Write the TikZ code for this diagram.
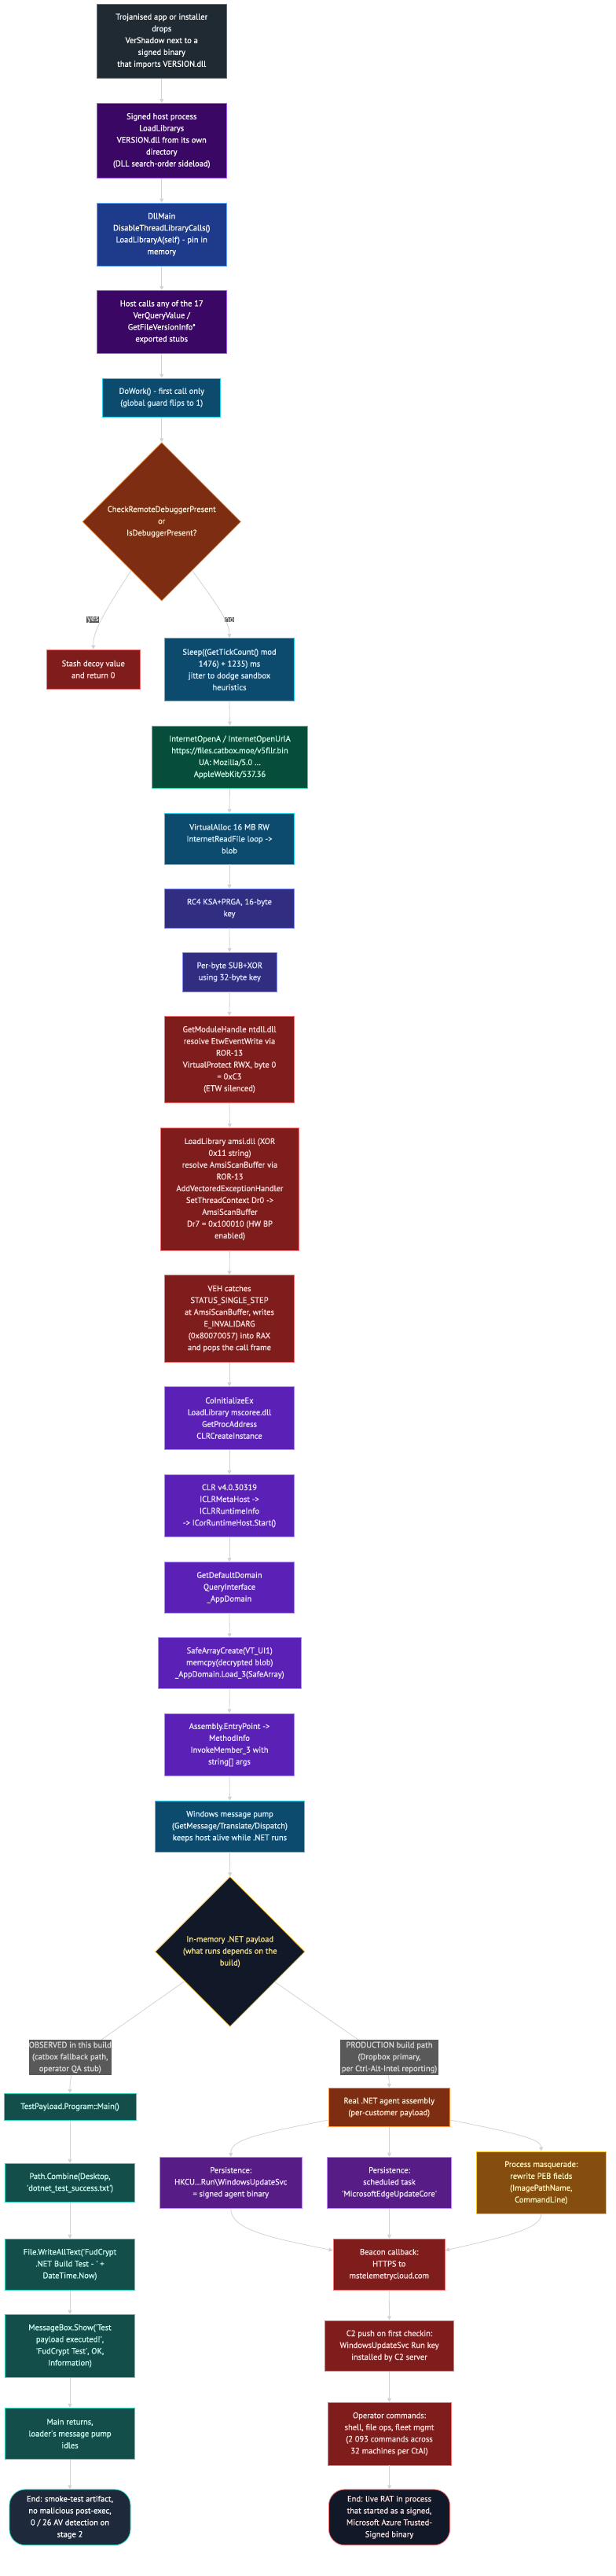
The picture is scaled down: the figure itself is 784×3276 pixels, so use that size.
\documentclass[tikz,border=0pt]{standalone}
\usepackage{fontspec}
\setmainfont{PT Sans}[FakeBold=0.7]
\usetikzlibrary{shapes.geometric,arrows.meta,calc}
\newcommand\fs{\fontsize{10.5}{15}\selectfont}
\newcommand\sq{\textquotesingle}
\definecolor{edgec}{HTML}{D3D3D3}
\definecolor{slateF}{HTML}{1F2A33}\definecolor{slateD}{HTML}{5F6B78}
\definecolor{dpurF}{HTML}{3B0764}\definecolor{dpurD}{HTML}{A855F7}
\definecolor{blueF}{HTML}{1E3A8A}\definecolor{blueD}{HTML}{60A5FA}
\definecolor{cyanF}{HTML}{0C4A6E}\definecolor{cyanD}{HTML}{22D3EE}\definecolor{cyanT}{HTML}{E0F2FE}
\definecolor{orgF}{HTML}{7C2D12}\definecolor{orgD}{HTML}{FB923C}\definecolor{orgT}{HTML}{FFEDD5}
\definecolor{redF}{HTML}{7F1D1D}\definecolor{redD}{HTML}{F87171}\definecolor{redT}{HTML}{FEE2E2}
\definecolor{grnF}{HTML}{064E3B}\definecolor{grnD}{HTML}{34D399}\definecolor{grnT}{HTML}{D1FAE5}
\definecolor{indF}{HTML}{312E81}\definecolor{indD}{HTML}{818CF8}\definecolor{indT}{HTML}{E0E7FF}
\definecolor{vioF}{HTML}{5B21B6}\definecolor{vioD}{HTML}{A78BFA}\definecolor{vioT}{HTML}{EDE9FE}
\definecolor{navF}{HTML}{111827}\definecolor{ylwD}{HTML}{FBBF24}\definecolor{ylwT}{HTML}{FDE68A}
\definecolor{lblF}{HTML}{595959}\definecolor{lblT}{HTML}{DDDDDD}
\definecolor{tealF}{HTML}{134E4A}\definecolor{tealD}{HTML}{2DD4BF}\definecolor{tealT}{HTML}{CCFBF1}
\definecolor{perF}{HTML}{581C87}\definecolor{perD}{HTML}{C084FC}\definecolor{perT}{HTML}{F3E8FF}
\definecolor{mqF}{HTML}{854D0E}\definecolor{mqD}{HTML}{FACC15}\definecolor{mqT}{HTML}{FEF9C3}
\definecolor{e1F}{HTML}{1E293B}
\begin{document}
\begin{tikzpicture}[x=1pt,y=-1pt,
  box/.style={draw, line width=0.8pt, inner sep=0pt, align=center, font=\fs},
  slatebox/.style={box, fill=slateF, draw=slateD, text=white},
  dpurbox/.style={box, fill=dpurF, draw=dpurD, text=white},
  bluebox/.style={box, fill=blueF, draw=blueD, text=white},
  cyanbox/.style={box, fill=cyanF, draw=cyanD, text=cyanT},
  orgbox/.style={box, fill=orgF, draw=orgD, text=orgT},
  redbox/.style={box, fill=redF, draw=redD, text=redT},
  grnbox/.style={box, fill=grnF, draw=grnD, text=grnT},
  indbox/.style={box, fill=indF, draw=indD, text=indT},
  viobox/.style={box, fill=vioF, draw=vioD, text=vioT},
  tealbox/.style={box, fill=tealF, draw=tealD, text=tealT},
  perbox/.style={box, fill=perF, draw=perD, text=perT},
  mqbox/.style={box, fill=mqF, draw=mqD, text=mqT},
  decision/.style={box, shape=diamond, aspect=1},
  lbl/.style={fill=lblF, text=lblT, inner sep=0.5pt, align=center, font=\fs},
  edge/.style={draw=edgec, line width=0.8pt, -{Triangle[length=5pt,width=5pt]}}
]
\fill[white] (0,0) rectangle (784,3276);
\useasboundingbox (0,0) rectangle (784,3276);

% main column
\node[slatebox, minimum width=164.5pt, minimum height=94.3pt] (n1) at (205.75,52.2) {Trojanised app or installer\\drops\\VerShadow next to a\\signed binary\\that imports VERSION.dll};
\node[dpurbox, minimum width=164.5pt, minimum height=95.4pt] (n2) at (205.75,179) {Signed host process\\LoadLibrarys\\VERSION.dll from its own\\directory\\(DLL search-order sideload)};
\node[bluebox, minimum width=164.5pt, minimum height=80.3pt] (n3) at (205.75,298.2) {DllMain\\DisableThreadLibraryCalls()\\LoadLibraryA(self) - pin in\\memory};
\node[dpurbox, minimum width=164.5pt, minimum height=80pt] (n4) at (205.75,409.3) {Host calls any of the 17\\VerQueryValue /\\GetFileVersionInfo*\\exported stubs};
\node[cyanbox, minimum width=150pt, minimum height=49.3pt] (n5) at (205.75,505.7) {DoWork() - first call only\\(global guard flips to 1)};
\node[decision, fill=orgF, draw=orgD, text=orgT, minimum width=201.5pt, minimum height=201.6pt] (d1) at (205.75,663.5) {CheckRemoteDebuggerPresent\\or\\IsDebuggerPresent?};
\node[redbox, minimum width=119.5pt, minimum height=50.3pt] (stash) at (118.75,851.2) {Stash decoy value\\and return 0};
\node[cyanbox, minimum width=165pt, minimum height=79.6pt] (sleep) at (292,851.5) {Sleep((GetTickCount() mod\\1476) + 1235) ms\\jitter to dodge sandbox\\heuristics};
\node[grnbox, minimum width=198pt, minimum height=79.7pt] (inet) at (292.5,962.8) {InternetOpenA / InternetOpenUrlA\\https://files.catbox.moe/v5fllr.bin\\UA: Mozilla/5.0 \dots\\AppleWebKit/537.36};
\node[cyanbox, minimum width=165pt, minimum height=64.7pt] (valloc) at (292,1066.7) {VirtualAlloc 16 MB RW\\InternetReadFile loop ->\\blob};
\node[indbox, minimum width=165pt, minimum height=49.7pt] (rc4) at (292,1155.2) {RC4 KSA+PRGA, 16-byte\\key};
\node[indbox, minimum width=120.5pt, minimum height=49.7pt] (perbyte) at (292.25,1236.2) {Per-byte SUB+XOR\\using 32-byte key};
\node[redbox, minimum width=165pt, minimum height=110.4pt] (etw) at (292,1347.5) {GetModuleHandle ntdll.dll\\resolve EtwEventWrite via\\ROR-13\\VirtualProtect RWX, byte 0\\= 0xC3\\(ETW silenced)};
\node[redbox, minimum width=176pt, minimum height=156pt] (amsi) at (292.5,1512.3) {LoadLibrary amsi.dll (XOR\\0x11 string)\\resolve AmsiScanBuffer via\\ROR-13\\AddVectoredExceptionHandler\\SetThreadContext Dr0 ->\\AmsiScanBuffer\\Dr7 = 0x100010 (HW BP\\enabled)};
\node[redbox, minimum width=165pt, minimum height=110.6pt] (veh) at (292,1677) {VEH catches\\STATUS\_SINGLE\_STEP\\at AmsiScanBuffer, writes\\E\_INVALIDARG\\(0x80070057) into RAX\\and pops the call frame};
\node[viobox, minimum width=165pt, minimum height=79.6pt] (coinit) at (292,1803.5) {CoInitializeEx\\LoadLibrary mscoree.dll\\GetProcAddress\\CLRCreateInstance};
\node[viobox, minimum width=165pt, minimum height=79.4pt] (clr) at (292,1915) {CLR v4.0.30319\\ICLRMetaHost ->\\ICLRRuntimeInfo\\-> ICorRuntimeHost.Start()};
\node[viobox, minimum width=165pt, minimum height=64.6pt] (gdd) at (292,2019) {GetDefaultDomain\\QueryInterface\\\_AppDomain};
\node[viobox, minimum width=181.5pt, minimum height=64.6pt] (safe) at (292.25,2115) {SafeArrayCreate(VT\_UI1)\\memcpy(decrypted blob)\\\_AppDomain.Load\_3(SafeArray)};
\node[viobox, minimum width=165pt, minimum height=79.7pt] (asm) at (292,2218.8) {Assembly.EntryPoint ->\\MethodInfo\\InvokeMember\_3 with\\string[] args};
\node[cyanbox, minimum width=190pt, minimum height=64.7pt] (pump) at (292.5,2322.7) {Windows message pump\\(GetMessage/Translate/Dispatch)\\keeps host alive while .NET runs};
\node[decision, fill=navF, draw=ylwD, text=ylwT, minimum width=190.5pt, minimum height=190.6pt] (d2) at (292.75,2482) {In-memory .NET payload\\(what runs depends on the\\build)};

% observed branch
\node[tealbox, minimum width=168pt, minimum height=34.4pt] (tp) at (89,2679.5) {TestPayload.Program::Main()};
\node[tealbox, minimum width=165pt, minimum height=49.4pt] (pc) at (89,2776) {Path.Combine(Desktop,\\\sq dotnet\_test\_success.txt\sq)};
\node[tealbox, minimum width=165pt, minimum height=65pt] (wat) at (89,2879.8) {File.WriteAllText(\sq FudCrypt\\.NET Build Test - \sq\ +\\DateTime.Now)};
\node[tealbox, minimum width=165pt, minimum height=80pt] (mb) at (89,2983.3) {MessageBox.Show(\sq Test\\payload executed!\sq,\\\sq FudCrypt Test\sq, OK,\\Information)};
\node[tealbox, minimum width=165pt, minimum height=65pt] (mr) at (89,3094.8) {Main returns,\\loader\sq s message pump\\idles};
\node[box, fill=e1F, draw=tealD, text=white, rounded corners=20pt, minimum width=154pt, minimum height=70.7pt] (end1) at (89,3201.3) {End: smoke-test artifact,\\no malicious post-exec,\\0 / 26 AV detection on\\stage 2};

% production branch
\node[orgbox, minimum width=154.5pt, minimum height=49.4pt] (real) at (495.25,2680) {Real .NET agent assembly\\(per-customer payload)};
\node[perbox, minimum width=181.5pt, minimum height=65pt] (hkcu) at (293.75,2775.8) {Persistence:\\HKCU\dots Run\textbackslash WindowsUpdateSvc\\= signed agent binary};
\node[perbox, minimum width=158pt, minimum height=65pt] (sched) at (495.5,2775.8) {Persistence:\\scheduled task\\\sq MicrosoftEdgeUpdateCore\sq};
\node[mqbox, minimum width=164.5pt, minimum height=79.7pt] (masq) at (688.75,2775.8) {Process masquerade:\\rewrite PEB fields\\(ImagePathName,\\CommandLine)};
\node[redbox, minimum width=142.5pt, minimum height=65pt] (beacon) at (495.25,2879.8) {Beacon callback:\\HTTPS to\\mstelemetrycloud.com};
\node[redbox, minimum width=164pt, minimum height=64.7pt] (c2) at (495.5,2983.3) {C2 push on first checkin:\\WindowsUpdateSvc Run key\\installed by C2 server};
\node[redbox, minimum width=157pt, minimum height=79.7pt] (op) at (495.5,3095.2) {Operator commands:\\shell, file ops, fleet mgmt\\(2 093 commands across\\32 machines per CtAI)};
\node[box, fill=navF, draw=redD, text=redT, rounded corners=20pt, minimum width=154pt, minimum height=70.7pt] (end2) at (495.5,3201.3) {End: live RAT in process\\that started as a signed,\\Microsoft Azure Trusted-\\Signed binary};

% edges
\draw[edge] (n1.south) -- (n2.north);
\draw[edge] (n2.south) -- (n3.north);
\draw[edge] (n3.south) -- (n4.north);
\draw[edge] (n4.south) -- (n5.north);
\draw[edge] (n5.south) -- (d1.north);
\draw[edge] (d1.238) .. controls (125,790) and (118.75,805) .. (stash.north);
\draw[edge] (d1.302) .. controls (285,780) and (292,795) .. (sleep.north);
\draw[edge] (sleep.south) -- (inet.north);
\draw[edge] (inet.south) -- (valloc.north);
\draw[edge] (valloc.south) -- (rc4.north);
\draw[edge] (rc4.south) -- (perbyte.north);
\draw[edge] (perbyte.south) -- (etw.north);
\draw[edge] (etw.south) -- (amsi.north);
\draw[edge] (amsi.south) -- (veh.north);
\draw[edge] (veh.south) -- (coinit.north);
\draw[edge] (coinit.south) -- (clr.north);
\draw[edge] (clr.south) -- (gdd.north);
\draw[edge] (gdd.south) -- (safe.north);
\draw[edge] (safe.south) -- (asm.north);
\draw[edge] (asm.south) -- (pump.north);
\draw[edge] (pump.south) -- (d2.north);
\draw[edge] (d2.213) -- (129,2594) .. controls (95,2618) and (89,2635) .. (tp.north);
\draw[edge] (d2.326) -- (456,2594) .. controls (490,2615) and (495.25,2632) .. (real.north);
\draw[edge] (tp.south) -- (pc.north);
\draw[edge] (pc.south) -- (wat.north);
\draw[edge] (wat.south) -- (mb.north);
\draw[edge] (mb.south) -- (mr.north);
\draw[edge] (mr.south) -- (end1.north);
\draw[edge] ([yshift=9pt]real.south west) .. controls (320,2715) and (293.75,2722) .. (hkcu.north);
\draw[edge] (real.south -| sched.north) -- (sched.north);
\draw[edge] ([yshift=9pt]real.south east) .. controls (670,2715) and (688.75,2722) .. (masq.north);
\draw[edge] (hkcu.south) .. controls (293.75,2835) and (340,2845) .. ([yshift=-15pt]beacon.north west);
\draw[edge] (sched.south) -- (sched.south |- beacon.north);
\draw[edge] (masq.south) .. controls (688.75,2835) and (640,2845) .. ([yshift=-15pt]beacon.north east);
\draw[edge] (beacon.south) -- (c2.north);
\draw[edge] (c2.south) -- (op.north);
\draw[edge] (op.south) -- (end2.north);

% edge labels
\node[lbl] (yes) at (118.25,788.2) {yes};
\node[lbl] (no) at (292,788.2) {no};
\node[lbl, minimum width=102.5pt, minimum height=45pt, inner sep=0pt] (lobs) at (89.25,2616.5) {OBSERVED in this build\\(catbox fallback path,\\operator QA stub)};
\node[lbl, minimum width=125pt, minimum height=45pt, inner sep=0pt] (lprod) at (495.5,2616.5) {PRODUCTION build path\\(Dropbox primary,\\per Ctrl-Alt-Intel reporting)};
\end{tikzpicture}
\end{document}
